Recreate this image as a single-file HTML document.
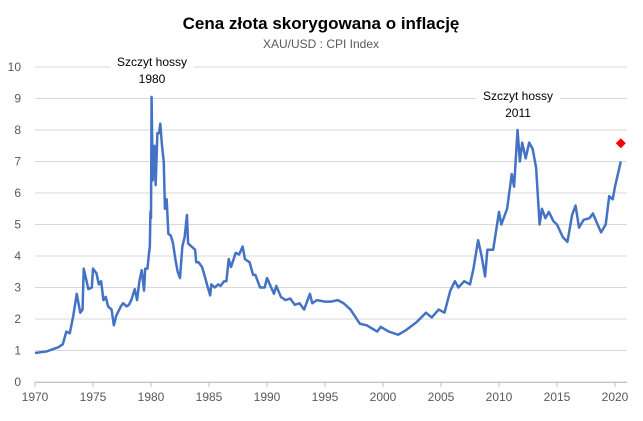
<!DOCTYPE html>
<html><head><meta charset="utf-8"><style>
body{margin:0;background:#fff;font-family:"Liberation Sans",sans-serif}
svg text{font-family:"Liberation Sans",sans-serif}
</style></head><body>
<svg id="c" width="643" height="416"></svg>
<script>
const years=[1970,1971,1972,1972.4,1972.7,1973,1973.3,1973.6,1973.9,1974.1,1974.2,1974.6,1974.9,1975.0,1975.3,1975.5,1975.7,1975.9,1976.1,1976.3,1976.6,1976.8,1977.0,1977.4,1977.6,1977.9,1978.1,1978.3,1978.6,1978.8,1979.0,1979.2,1979.4,1979.5,1979.7,1979.8,1979.9,1979.95,1980.0,1980.05,1980.15,1980.3,1980.4,1980.55,1980.7,1980.8,1980.95,1981.1,1981.2,1981.35,1981.5,1981.7,1981.9,1982.1,1982.3,1982.5,1982.7,1982.9,1983.1,1983.2,1983.5,1983.8,1983.9,1984.1,1984.4,1984.6,1984.9,1985.1,1985.2,1985.5,1985.8,1986.0,1986.3,1986.5,1986.7,1986.9,1987.3,1987.6,1987.9,1988.1,1988.5,1988.8,1989.0,1989.4,1989.8,1990.0,1990.3,1990.6,1990.8,1991.2,1991.6,1992.0,1992.4,1992.8,1993.2,1993.7,1993.9,1994.3,1995,1995.5,1996.1,1996.6,1997.2,1998.0,1998.6,1999.5,1999.8,2000.5,2001.3,2002,2002.9,2003.7,2004.2,2004.8,2005.3,2005.8,2006.2,2006.5,2007.0,2007.5,2007.8,2008.2,2008.5,2008.8,2009,2009.5,2010,2010.2,2010.7,2011.1,2011.3,2011.6,2011.8,2012.0,2012.3,2012.6,2012.9,2013.2,2013.5,2013.7,2014.0,2014.3,2014.7,2015,2015.5,2015.9,2016.3,2016.6,2016.9,2017.3,2017.8,2018.1,2018.5,2018.8,2019.2,2019.5,2019.8,2020.0,2020.5];
const values=[0.92,0.97,1.1,1.2,1.6,1.55,2.1,2.8,2.2,2.3,3.6,2.95,3.0,3.6,3.45,3.1,3.2,2.6,2.7,2.4,2.3,1.8,2.1,2.4,2.5,2.4,2.45,2.6,2.95,2.6,3.2,3.55,2.9,3.6,3.6,4.0,4.3,5.4,5.2,9.05,6.4,7.5,6.25,7.9,7.9,8.2,7.5,7.0,5.5,5.8,4.7,4.65,4.4,3.9,3.5,3.3,4.3,4.6,5.3,4.4,4.3,4.2,3.8,3.8,3.65,3.4,3.0,2.75,3.1,3.0,3.1,3.05,3.2,3.2,3.9,3.65,4.1,4.05,4.3,3.9,3.8,3.4,3.4,3.0,3.0,3.3,3.05,2.8,3.05,2.7,2.6,2.65,2.45,2.5,2.3,2.8,2.5,2.6,2.55,2.55,2.6,2.5,2.3,1.85,1.8,1.6,1.75,1.6,1.5,1.65,1.9,2.2,2.05,2.3,2.2,2.9,3.2,3.0,3.2,3.1,3.6,4.5,4.0,3.35,4.2,4.2,5.4,5.0,5.5,6.6,6.2,8.0,7.0,7.6,7.1,7.6,7.4,6.8,5.0,5.5,5.2,5.4,5.1,5.0,4.6,4.45,5.3,5.6,4.9,5.15,5.2,5.35,5.0,4.75,5.0,5.9,5.8,6.2,7.0];
const markerYear=[2020.5], markerValue=[7.58];
const yTicks=[0,1,2,3,4,5,6,7,8,9,10];
const xTicks=[1970,1975,1980,1985,1990,1995,2000,2005,2010,2015,2020];
const X=y=>35+(y-1970)*11.6, Y=v=>382-v*31.5;
const svg=document.getElementById('c'),NS='http://www.w3.org/2000/svg';
function mk(t,a,p){const e=document.createElementNS(NS,t);for(const k in a)e.setAttribute(k,a[k]);(p||svg).appendChild(e);return e;}
let e;
e=mk('text',{x:321,y:29,'text-anchor':'middle','font-size':17,'font-weight':'bold',fill:'#000'});e.textContent='Cena złota skorygowana o inflację';


e=mk('text',{x:321,y:48,'text-anchor':'middle','font-size':12,fill:'#595959'});e.textContent='XAU/USD : CPI Index';


yTicks.forEach(v=>{
 e=mk('line',{x1:35,x2:627,y1:Y(v),y2:Y(v),stroke:'#d9d9d9','stroke-width':1});
 
 
 e=mk('text',{x:21,y:Y(v)+4,'text-anchor':'end','font-size':12,fill:'#595959'});e.textContent=v;
 
 
});
e=mk('line',{x1:35,x2:627,y1:382.5,y2:382.5,stroke:'#bfbfbf'});


xTicks.forEach(t=>{
 e=mk('line',{x1:X(t),x2:X(t),y1:382,y2:387,stroke:'#bfbfbf'});
 
 
 e=mk('text',{x:X(t),y:401,'text-anchor':'middle','font-size':12,fill:'#595959'});e.textContent=t;
 
 
});
e=mk('polyline',{points:years.map((y,i)=>X(y)+','+Y(values[i])).join(' '),fill:'none',stroke:'#4472c4','stroke-width':2.5,'stroke-linejoin':'round'});


markerYear.forEach((y,i)=>{const cx=X(y),cy=Y(markerValue[i]);
 e=mk('polygon',{points:`${cx},${cy-5} ${cx+5},${cy} ${cx},${cy+5} ${cx-5},${cy}`,fill:'#ff0000'});
 
 
});
[[152,66,'1980'],[518,100,'2011']].forEach(a=>{
 const g=mk('g',{});
 
 
 mk('rect',{x:a[0]-42,y:a[1]-12,width:84,height:34,fill:'#fff'},g);
 let t=mk('text',{x:a[0],y:a[1],'text-anchor':'middle','font-size':12,fill:'#000'},g);t.textContent='Szczyt hossy';
 t=mk('text',{x:a[0],y:a[1]+17,'text-anchor':'middle','font-size':12,fill:'#000'},g);t.textContent=a[2];
});
</script>
</body></html>
